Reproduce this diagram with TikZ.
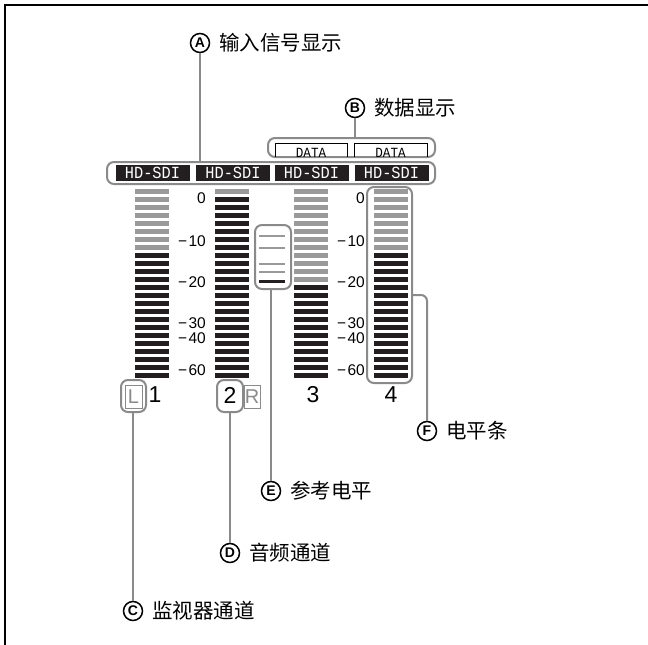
\documentclass[tikz,border=0pt]{standalone}
\usepackage{fontspec}
\setmainfont{Liberation Sans}
\newfontfamily\cjk{Noto Sans CJK SC}
\newfontfamily\lcd[FakeStretch=0.9]{Liberation Mono}
\definecolor{bargray}{HTML}{9A9A9A}
\definecolor{barblack}{HTML}{231F20}
\definecolor{ldgray}{HTML}{8A8A8A}
\begin{document}
\begin{tikzpicture}[x=1pt,y=-1pt,
  leader/.style={draw=ldgray,line width=2pt},
  circ/.style={circle,draw=black,line width=1.5pt,fill=white,inner sep=0pt,minimum size=19pt,font=\bfseries\fontsize{14}{14}\selectfont},
  lbl/.style={anchor=west,inner sep=0pt,font=\cjk\fontsize{20.5}{20.5}\selectfont},
  gbox/.style={draw=ldgray,line width=2pt,rounded corners=7pt,inner sep=0pt},
  hd/.style={fill=barblack,text=white,inner sep=0pt,minimum width=74pt,minimum height=16pt,font=\lcd\fontsize{17}{17}\selectfont},
  scl/.style={anchor=east,inner sep=0pt,font=\fontsize{15.5}{15.5}\selectfont},
  chn/.style={inner sep=0pt,font=\fontsize{23}{23}\selectfont},
  thinbox/.style={draw=ldgray,line width=0.8pt,inner sep=0pt},
  ]
\useasboundingbox (0,0) rectangle (648,645);
% frame
\draw[line width=2pt] (5,645) -- (5,5) -- (648,5);

% meter bars
\foreach \x/\g in {135/8,215/1,294/12,374/8}{
  \foreach \j in {0,...,23}{
    \ifnum\j<\g \def\c{bargray}\else\def\c{barblack}\fi
    \fill[\c] (\x,{189+8*\j}) rectangle ++(34,4.7);
  }
}

% scales
\foreach \xx in {206,365}{
  \node[scl] (s0\xx) at (\xx,198) {0};
  \node[scl] (s10\xx) at (\xx,241) {−\kern1.5pt10};
  \node[scl] (s20\xx) at (\xx,282) {−\kern1.5pt20};
  \node[scl] (s30\xx) at (\xx,323) {−\kern1.5pt30};
  \node[scl] (s40\xx) at (\xx,338) {−\kern1.5pt40};
  \node[scl] (s60\xx) at (\xx,370) {−\kern1.5pt60};
}

% HD-SDI row
\node[gbox,minimum width=328pt,minimum height=22pt] (hdbox) at (271,173) {};
\node[hd] (hd1) at (152.5,173) {HD-SDI};
\node[hd] (hd2) at (233,173) {HD-SDI};
\node[hd] (hd3) at (311.5,173) {HD-SDI};
\node[hd] (hd4) at (391.5,173) {HD-SDI};

% DATA row
\node[gbox,minimum width=167pt,minimum height=19pt] (databox) at (351.5,147.5) {};
\draw[line width=0.8pt] (275,157) -- (275,143) -- (347,143) -- (347,157);
\draw[line width=0.8pt] (354,157) -- (354,143) -- (427,143) -- (427,157);
\node[inner sep=0pt,font=\lcd\fontsize{14}{14}\selectfont] (d1) at (311,152.5) {DATA};
\node[inner sep=0pt,font=\lcd\fontsize{14}{14}\selectfont] (d2) at (390.5,152.5) {DATA};

% reference level box
\node[gbox,minimum width=36pt,minimum height=64pt] (refbox) at (273,257) {};
\foreach \yy in {236,248,264,272}{
  \draw[bargray,line width=2.5pt] (259,\yy) -- (285,\yy);
}
\draw[barblack,line width=3pt] (259,281) -- (285,281);

% meter 4 box
\node[gbox,minimum width=45pt,minimum height=196pt] (m4box) at (389.5,285) {};

% channel labels
\node[gbox,minimum width=25pt,minimum height=32pt] (lbox) at (133.5,396) {};
\node[thinbox,minimum width=17pt,minimum height=23pt,text=ldgray,font=\fontsize{20}{20}\selectfont] (lL) at (133.5,396.5) {L};
\node[chn] (n1) at (155,395) {1};
\node[gbox,minimum width=26pt,minimum height=32pt] (twobox) at (230,396) {};
\node[chn] (n2) at (230,395) {2};
\node[thinbox,minimum width=16pt,minimum height=23pt,text=ldgray,font=\fontsize{20}{20}\selectfont] (rR) at (252,396.5) {R};
\node[chn] (n3) at (313,395) {3};
\node[chn] (n4) at (391,395) {4};

% callouts
\node[circ] (cA) at (200,43) {A};
\node[lbl] (tA) at ([xshift=9pt]cA.east) {输入信号显示};
\node[circ] (cB) at (355,108) {B};
\node[lbl] (tB) at ([xshift=9pt]cB.east) {数据显示};
\node[circ] (cF) at (427,431) {F};
\node[lbl] (tF) at ([xshift=9pt]cF.east) {电平条};
\node[circ] (cE) at (271,491) {E};
\node[lbl] (tE) at ([xshift=9pt]cE.east) {参考电平};
\node[circ] (cD) at (230,553) {D};
\node[lbl] (tD) at ([xshift=9pt]cD.east) {音频通道};
\node[circ] (cC) at (133,611) {C};
\node[lbl] (tC) at ([xshift=9pt]cC.east) {监视器通道};

% leaders
\coordinate (fy) at (0,295);
\draw[leader] (cA.south) -- (cA.south |- hdbox.north);
\draw[leader] (cB.south) -- (cB.south |- databox.north);
\draw[leader,rounded corners=6pt] (m4box.east |- fy) -| (cF.north);
\draw[leader] (refbox.south -| cE) -- (cE.north);
\draw[leader] (twobox.south) -- (cD.north);
\draw[leader] (lbox.south -| cC) -- (cC.north);
\end{tikzpicture}
\end{document}
